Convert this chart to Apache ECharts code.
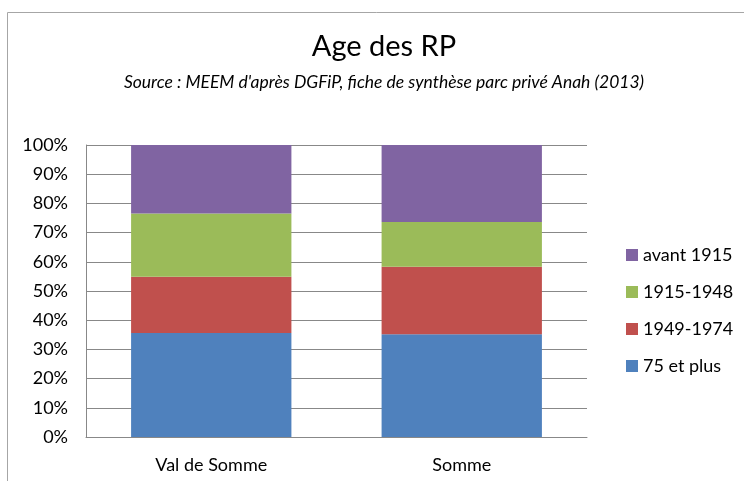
<!DOCTYPE html>
<html>
<head>
<meta charset="utf-8">
<script src="https://cdn.jsdelivr.net/npm/echarts@6/dist/echarts.min.js"></script>
<style>html,body{margin:0;padding:0;background:#fff}#c{width:744px;height:481px}</style>
</head>
<body>
<div id="c"></div>
<script>
const categories = ['Val de Somme', 'Somme'];
const seriesNames = ['75 et plus', '1949-1974', '1915-1948', 'avant 1915'];
const v75etPlus = [35.6, 35.2];
const v1949_1974 = [19.3, 23.1];
const v1915_1948 = [21.6, 15.3];
const vAvant1915 = [23.5, 26.4];
const colors = ['#4F81BD', '#C0504D', '#9BBB59', '#8064A2'];
const values = [v75etPlus, v1949_1974, v1915_1948, vAvant1915];

const FONT = 'Lato, "Open Sans", sans-serif';
const chart = echarts.init(document.getElementById('c'), null, {renderer: 'canvas'});
chart.setOption({
  animation: false,
  backgroundColor: '#fff',
  title: {
    text: 'Age des RP',
    subtext: "Source : MEEM d'après DGFiP, fiche de synthèse parc privé Anah (2013)",
    left: 379, textAlign: 'center', top: 27, itemGap: 12,
    textStyle: {fontFamily: FONT, fontSize: 29, fontWeight: 'normal', color: '#000'},
    subtextStyle: {fontFamily: FONT, fontSize: 17.5, fontStyle: 'italic', color: '#000'}
  },
  graphic: [{
    type: 'rect', silent: true,
    shape: {x: 7.5, y: 12.5, width: 800, height: 600},
    style: {fill: 'none', stroke: '#a6a6a6', lineWidth: 1}
  }],
  legend: {
    orient: 'vertical', left: 621, top: 241,
    data: seriesNames.slice().reverse(),
    itemWidth: 12, itemHeight: 12, itemGap: 19,
    icon: 'rect',
    textStyle: {fontFamily: FONT, fontSize: 18, color: '#000', lineHeight: 18}
  },
  grid: {left: 86, top: 145, right: 157, bottom: 44, containLabel: false},
  xAxis: {
    type: 'category', data: categories,
    axisLine: {lineStyle: {color: '#888'}},
    axisTick: {show: false},
    axisLabel: {fontFamily: FONT, fontSize: 18, color: '#000', margin: 19}
  },
  yAxis: {
    type: 'value', min: 0, max: 100, interval: 10,
    axisLine: {show: true, lineStyle: {color: '#888'}},
    axisTick: {show: false},
    splitLine: {lineStyle: {color: '#888'}},
    axisLabel: {fontFamily: FONT, fontSize: 18, color: '#000', margin: 18, formatter: '{value}%'}
  },
  series: seriesNames.map((n, i) => ({
    name: n, type: 'bar', stack: 'total', data: values[i],
    barWidth: '64%',
    itemStyle: {color: colors[i]}
  }))
});
</script>
</body>
</html>
